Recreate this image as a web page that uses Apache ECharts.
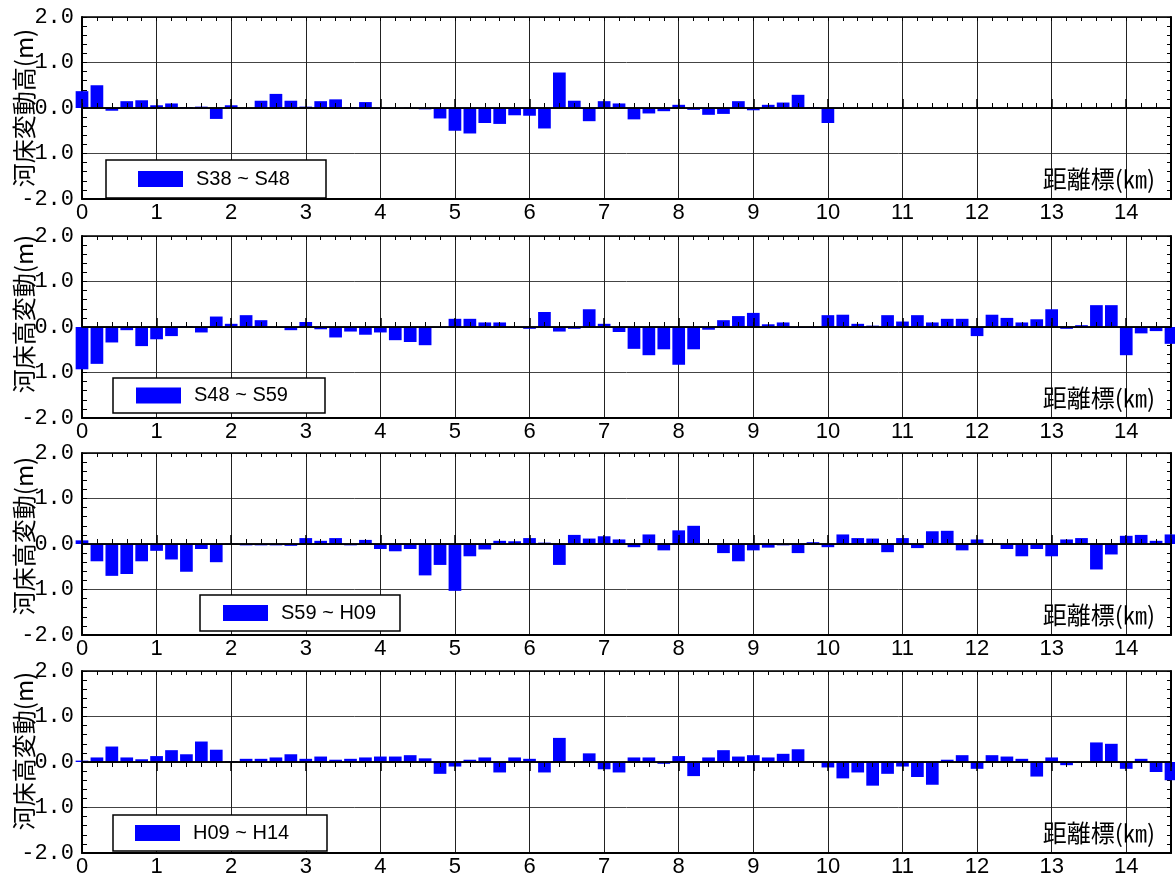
<!DOCTYPE html>
<html>
<head>
<meta charset="utf-8">
<script src="https://cdn.jsdelivr.net/npm/echarts@6/dist/echarts.min.js"></script>
<style>
html, body { margin: 0; padding: 0; background: #fff; }
#chart { width: 1175px; height: 881px; }
</style>
</head>
<body>
<div id="chart"></div>
<script>
// 距離標 (km), one section every 200 m
const distanceKm = [
  0.0, 0.2, 0.4, 0.6, 0.8, 1.0, 1.2, 1.4, 1.6, 1.8,
  2.0, 2.2, 2.4, 2.6, 2.8, 3.0, 3.2, 3.4, 3.6, 3.8,
  4.0, 4.2, 4.4, 4.6, 4.8, 5.0, 5.2, 5.4, 5.6, 5.8,
  6.0, 6.2, 6.4, 6.6, 6.8, 7.0, 7.2, 7.4, 7.6, 7.8,
  8.0, 8.2, 8.4, 8.6, 8.8, 9.0, 9.2, 9.4, 9.6, 9.8,
  10.0, 10.2, 10.4, 10.6, 10.8, 11.0, 11.2, 11.4, 11.6, 11.8,
  12.0, 12.2, 12.4, 12.6, 12.8, 13.0, 13.2, 13.4, 13.6, 13.8,
  14.0, 14.2, 14.4, 14.6
];

// Periods compared in each panel
const periods = ['S38 ~ S48', 'S48 ~ S59', 'S59 ~ H09', 'H09 ~ H14'];

// Axis titles
const yTitles = ['河床変動高', '河床高変動', '河床高変動', '河床高変動'];
const yUnit = '(m)';
const xTitle = '距離標(㎞)';

// Axis ranges
const xRange = [0, 14.6];
const yRange = [-2, 2];

// Bed elevation change (m) per section
const changeS38S48 = [
  0.37, 0.50, -0.06, 0.15, 0.17, 0.06, 0.10, 0.02, 0.03, -0.24,
  0.06, -0.01, 0.16, 0.31, 0.16, 0.03, 0.15, 0.19, 0.02, 0.13,
  -0.01, -0.01, 0.01, -0.03, -0.23, -0.50, -0.56, -0.33, -0.35, -0.16,
  -0.17, -0.45, 0.78, 0.16, -0.29, 0.15, 0.10, -0.25, -0.12, -0.07,
  0.07, -0.04, -0.15, -0.13, 0.15, -0.05, 0.07, 0.12, 0.29, 0.02,
  -0.33
];
const changeS48S59 = [
  -0.93, -0.81, -0.34, -0.07, -0.42, -0.27, -0.20, 0.02, -0.12, 0.23,
  0.07, 0.26, 0.15, -0.01, -0.07, 0.11, -0.05, -0.23, -0.10, -0.17,
  -0.12, -0.29, -0.33, -0.40, -0.01, 0.18, 0.18, 0.10, 0.10, 0.00,
  -0.04, 0.33, -0.10, -0.04, 0.39, 0.07, -0.11, -0.48, -0.62, -0.49,
  -0.83, -0.49, -0.06, 0.15, 0.24, 0.31, 0.06, 0.10, -0.02, -0.02,
  0.26, 0.27, 0.07, 0.03, 0.26, 0.12, 0.26, 0.10, 0.18, 0.18,
  -0.20, 0.27, 0.20, 0.10, 0.17, 0.39, -0.04, 0.04, 0.48, 0.48,
  -0.62, -0.14, -0.09, -0.37
];
const changeS59H09 = [
  0.08, -0.38, -0.70, -0.66, -0.38, -0.15, -0.34, -0.61, -0.11, -0.40,
  0.01, -0.03, -0.03, -0.03, -0.04, 0.13, 0.07, 0.13, -0.03, 0.09,
  -0.11, -0.16, -0.11, -0.69, -0.46, -1.03, -0.27, -0.12, 0.07, 0.06,
  0.13, 0.03, -0.46, 0.20, 0.12, 0.17, 0.10, -0.07, 0.21, -0.14,
  0.30, 0.40, -0.01, -0.20, -0.38, -0.14, -0.08, -0.03, -0.20, 0.04,
  -0.07, 0.21, 0.13, 0.12, -0.18, 0.13, -0.09, 0.28, 0.29, -0.14,
  0.10, 0.01, -0.11, -0.27, -0.11, -0.27, 0.10, 0.13, -0.56, -0.23,
  0.18, 0.20, 0.07, 0.21
];
const changeH09H14 = [
  0.03, 0.10, 0.34, 0.10, 0.06, 0.13, 0.26, 0.17, 0.45, 0.27,
  0.02, 0.07, 0.07, 0.10, 0.17, 0.07, 0.12, 0.05, 0.07, 0.10,
  0.12, 0.12, 0.15, 0.08, -0.26, -0.10, 0.05, 0.10, -0.23, 0.10,
  0.07, -0.23, 0.53, 0.00, 0.19, -0.16, -0.23, 0.10, 0.10, -0.04,
  0.13, -0.31, 0.10, 0.26, 0.12, 0.15, 0.10, 0.18, 0.28, 0.01,
  -0.12, -0.36, -0.23, -0.52, -0.26, -0.10, -0.33, -0.50, 0.05, 0.15,
  -0.15, 0.15, 0.12, 0.07, -0.32, 0.10, -0.07, -0.01, 0.43, 0.40,
  -0.15, 0.07, -0.22, -0.40
];

const seriesValues = [changeS38S48, changeS48S59, changeS59H09, changeH09H14];

// ---- layout ----
const PLOT_LEFT = 82;
const PLOT_WIDTH = 1089;
const PLOT_HEIGHT = 182;
const gridTops = [17, 236, 453, 671];
const ticksPointDown = [false, false, false, true];
const titleShift = [0, 26, 16, 22];
const legendLayout = [
  { left: 106, top: 160, padding: [9, 33, 9, 32] },
  { left: 113, top: 378, padding: [7.5, 34, 7.5, 23] },
  { left: 200, top: 595, padding: [8, 22, 8, 23] },
  { left: 113, top: 815, padding: [8, 37, 8, 22] }
];

const BLACK = '#000';
const LABEL_FONT = 'Liberation Sans';
const NUM_FONT = 'Liberation Mono';
const CJK_FONT = 'Noto Sans CJK JP';

const grids = [];
const xAxes = [];
const yAxes = [];
const legends = [];
const series = [];

periods.forEach((period, i) => {
  grids.push({
    left: PLOT_LEFT, top: gridTops[i], width: PLOT_WIDTH, height: PLOT_HEIGHT,
    outerBoundsMode: 'none', containLabel: false
  });

  const xBase = { gridIndex: i, type: 'value', min: xRange[0], max: xRange[1] };
  // bottom frame, km labels and vertical grid
  xAxes.push(Object.assign({}, xBase, {
    position: 'bottom', interval: 1, z: 0,
    axisLine: { onZero: false, lineStyle: { color: BLACK, width: 2 } },
    axisTick: { show: false },
    axisLabel: {
      showMaxLabel: false, showMinLabel: true, margin: 3, color: BLACK,
      fontSize: 22, fontFamily: LABEL_FONT, formatter: v => String(v)
    },
    splitLine: { show: true, lineStyle: { color: '#222', width: 1 } },
    name: xTitle, nameLocation: 'end', nameGap: -16,
    nameTextStyle: {
      fontFamily: CJK_FONT, fontSize: 24, color: BLACK, align: 'right',
      verticalAlign: 'bottom', lineHeight: 24, padding: [0, 0, 8, 0]
    }
  }));
  // top frame with 200 m ticks
  xAxes.push(Object.assign({}, xBase, {
    position: 'top', interval: 0.2,
    axisLine: { onZero: false, lineStyle: { color: BLACK, width: 1.5 } },
    axisTick: { inside: true, length: 4, lineStyle: { color: BLACK, width: 1 } },
    axisLabel: { show: false }, splitLine: { show: false }
  }));
  // zero line with 200 m ticks
  xAxes.push(Object.assign({}, xBase, {
    position: 'bottom', interval: 0.2, z: 5,
    axisLine: { onZero: true, lineStyle: { color: BLACK, width: 1.5 } },
    axisTick: { inside: !ticksPointDown[i], length: 5, lineStyle: { color: BLACK, width: 1 } },
    axisLabel: { show: false }, splitLine: { show: false }
  }));
  // zero line, longer ticks at each km
  xAxes.push(Object.assign({}, xBase, {
    position: 'bottom', interval: 1, z: 5,
    axisLine: { onZero: true, lineStyle: { color: BLACK, width: 1.5 } },
    axisTick: { inside: !ticksPointDown[i], length: 9, lineStyle: { color: BLACK, width: 1.5 } },
    axisLabel: { show: false }, splitLine: { show: false }
  }));

  const yBase = { gridIndex: i, type: 'value', min: yRange[0], max: yRange[1] };
  // left frame with labels and horizontal grid
  yAxes.push(Object.assign({}, yBase, {
    position: 'left', interval: 1, z: 0,
    axisLine: { onZero: false, lineStyle: { color: BLACK, width: 2 } },
    axisTick: { show: false },
    axisLabel: { margin: 8, color: BLACK, fontSize: 22, fontFamily: NUM_FONT, formatter: v => v.toFixed(1) },
    splitLine: { show: true, lineStyle: { color: '#444', width: 1 } }
  }));
  // left minor ticks and the axis title
  yAxes.push(Object.assign({}, yBase, {
    position: 'left', interval: 0.2, z: 1,
    axisLine: { onZero: false, show: false },
    axisTick: { inside: true, length: 5, lineStyle: { color: BLACK, width: 1 } },
    axisLabel: { show: false }, splitLine: { show: false },
    name: '{a|' + yTitles[i] + yUnit + '}',
    nameLocation: 'middle', nameRotate: 90, nameGap: 46,
    nameTextStyle: {
      padding: [0, 0, 0, titleShift[i]],
      rich: {
        a: { fontFamily: CJK_FONT, fontSize: 24, lineHeight: 24, color: BLACK, backgroundColor: '#fff' }
      }
    }
  }));
  // right frame with minor ticks
  yAxes.push(Object.assign({}, yBase, {
    position: 'right', interval: 0.2,
    axisLine: { onZero: false, lineStyle: { color: BLACK, width: 2 } },
    axisTick: { inside: true, length: 4, lineStyle: { color: BLACK, width: 1 } },
    axisLabel: { show: false }, splitLine: { show: false }
  }));

  const L = legendLayout[i];
  legends.push({
    data: [period], left: L.left, top: L.top, padding: L.padding,
    orient: 'horizontal', selectedMode: false, icon: 'rect',
    itemWidth: 45, itemHeight: 16,
    backgroundColor: '#fff', borderColor: BLACK, borderWidth: 1.5, borderRadius: 0,
    textStyle: {
      fontSize: 20, fontFamily: LABEL_FONT, color: BLACK,
      width: 97, lineHeight: 16, padding: [0, 0, 0, 8]
    }
  });

  series.push({
    type: 'bar', name: period,
    xAxisIndex: i * 4, yAxisIndex: i * 3,
    data: seriesValues[i].map((v, k) => [distanceKm[k], v]),
    barWidth: 12.7,
    itemStyle: { color: '#0000ff' },
    clip: true
  });
});

const chart = echarts.init(document.getElementById('chart'));
chart.setOption({
  animation: false,
  backgroundColor: '#fff',
  grid: grids,
  xAxis: xAxes,
  yAxis: yAxes,
  legend: legends,
  series: series
});
</script>
</body>
</html>
